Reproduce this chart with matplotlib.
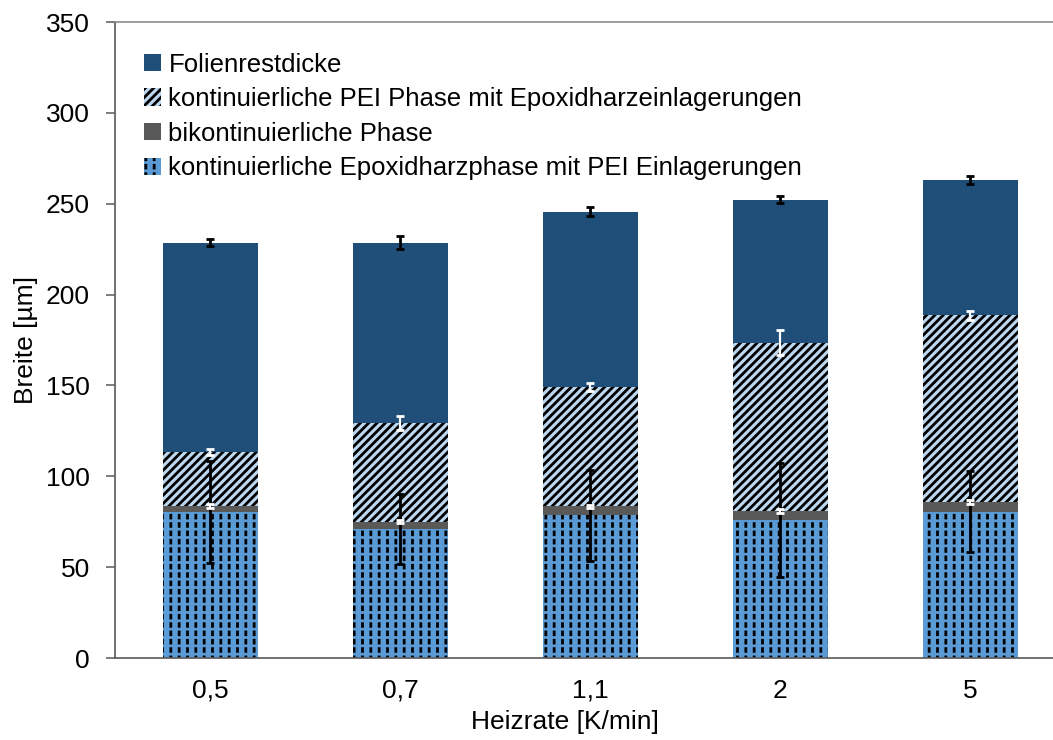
import matplotlib
matplotlib.use("Agg")
import matplotlib.pyplot as plt
import numpy as np

# Heizrate categories
heizrate = ["0,5", "0,7", "1,1", "2", "5"]

# layer thickness in µm, stacked bottom to top
epoxid = [80.3, 71.0, 78.6, 76.0, 80.6]   # kontinuierliche Epoxidharzphase
bikont = [3.5, 4.0, 4.8, 5.0, 5.4]        # bikontinuierliche Phase
pei = [29.6, 54.4, 65.8, 92.6, 102.5]     # kontinuierliche PEI Phase
folie = [115.2, 99.2, 96.5, 78.7, 74.5]   # Folienrestdicke

# standard deviations
epoxid_err = [28.0, 19.0, 25.0, 31.5, 22.3]
bikont_err = [1.0, 0.7, 0.8, 1.0, 1.0]
pei_err = [1.5, 4.0, 2.0, 7.0, 2.5]
folie_err = [2.0, 3.5, 2.5, 2.0, 2.0]

plt.rcParams["font.family"] = ["Liberation Sans", "DejaVu Sans"]
plt.rcParams["hatch.linewidth"] = 2.0

C_DARK = "#1F4E79"
C_LIGHT = "#BDD7EE"
C_GREY = "#595959"
C_BLUE = "#5B9BD5"
AX_GREY = "#595959"


def main():
    x = np.arange(len(heizrate))
    w = 0.5
    b1 = np.array(epoxid)
    b2 = b1 + np.array(bikont)
    b3 = b2 + np.array(pei)
    b4 = b3 + np.array(folie)

    fig = plt.figure(figsize=(10.53, 7.40), dpi=100)
    # axes run a bit past the right edge, like the cropped original
    ax = fig.add_axes([115 / 1053, 82 / 740, 950 / 1053, 636 / 740])

    h_ep = ax.bar(x, epoxid, w, color=C_BLUE, edgecolor="black", hatch="||", linewidth=0)
    h_ep2 = ax.bar(x, epoxid, w, fill=False, edgecolor=C_BLUE, hatch="--", linewidth=0)
    h_bi = ax.bar(x, bikont, w, bottom=b1, color=C_GREY, linewidth=0)
    h_pei = ax.bar(x, pei, w, bottom=b2, color=C_LIGHT, edgecolor="black", hatch="////", linewidth=0)
    h_fo = ax.bar(x, folie, w, bottom=b3, color=C_DARK, linewidth=0)

    ax.errorbar(x, b1, yerr=epoxid_err, fmt="none", ecolor="black", elinewidth=2, capsize=2.8, capthick=2)
    ax.errorbar(x, b2, yerr=bikont_err, fmt="none", ecolor="white", elinewidth=1.6, capsize=2.8, capthick=2)
    ax.errorbar(x, b3, yerr=pei_err, fmt="none", ecolor="white", elinewidth=1.6, capsize=2.8, capthick=2)
    ax.errorbar(x, b4, yerr=folie_err, fmt="none", ecolor="black", elinewidth=2, capsize=2.8, capthick=2)

    ax.set_xlim(-0.5, 4.5)
    ax.set_ylim(0, 350)
    ax.set_yticks(np.arange(0, 351, 50))
    ax.set_xticks(x)
    ax.set_xticklabels(heizrate)

    ax.spines["right"].set_visible(False)
    ax.spines["left"].set_color(AX_GREY)
    ax.spines["bottom"].set_color(AX_GREY)
    ax.spines["top"].set_color("#8c8c8c")
    for s in ("left", "bottom", "top"):
        ax.spines[s].set_linewidth(1.2)

    ax.tick_params(axis="y", length=6.5, width=1.1, color=AX_GREY, pad=11.5, labelsize=19)
    ax.tick_params(axis="x", length=0, pad=15, labelsize=19)

    ax.set_xlabel("Heizrate [K/min]", fontsize=19)
    ax.set_ylabel("Breite [µm]", fontsize=19)
    ax.xaxis.set_label_coords(0.4737, -0.082)
    ax.yaxis.set_label_coords(-0.081, 0.5)

    handles = [h_fo, h_pei, h_bi, (h_ep, h_ep2)]
    labels = [
        "Folienrestdicke",
        "kontinuierliche PEI Phase mit Epoxidharzeinlagerungen",
        "bikontinuierliche Phase",
        "kontinuierliche Epoxidharzphase mit PEI Einlagerungen",
    ]
    ax.legend(handles, labels, loc="upper left", bbox_to_anchor=(0.0305, 0.952),
              frameon=False, fontsize=18.5, handlelength=0.65, handleheight=0.65,
              handletextpad=0.3, labelspacing=0.41, borderpad=0, borderaxespad=0)

    fig.savefig("out.png", dpi=100)
    plt.close(fig)


if __name__ == "__main__":
    main()
